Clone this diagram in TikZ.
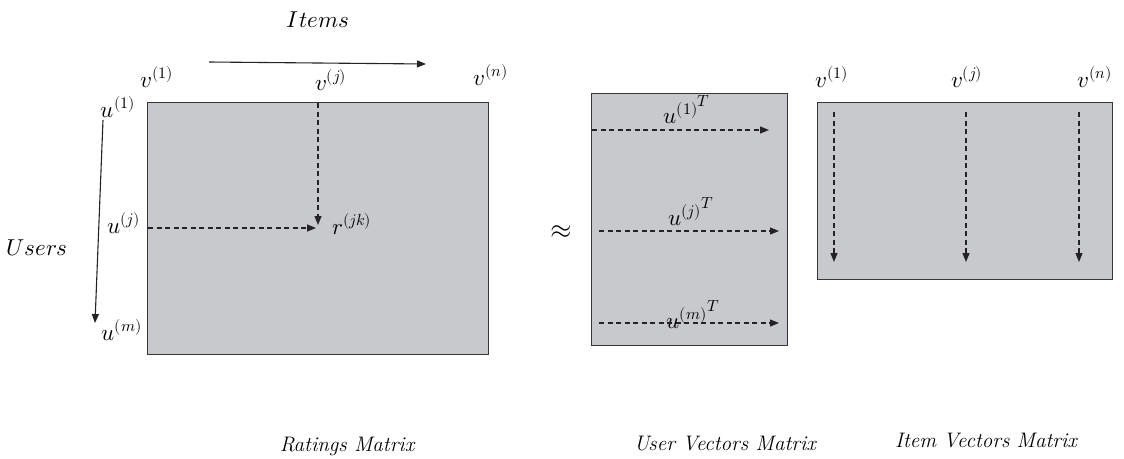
\documentclass[tikz,border=0pt]{standalone}
\usepackage{fontspec}
\usepackage{unicode-math}
\setmathfont{Latin Modern Math}
\usetikzlibrary{arrows.meta}
\definecolor{matfill}{RGB}{200,201,204}
\definecolor{linegray}{RGB}{55,55,55}
\definecolor{arrowgray}{RGB}{35,35,35}
\begin{document}
\begin{tikzpicture}[x=1pt,y=-1pt,
  matbox/.style={draw=linegray, fill=matfill, line width=1.4pt, inner sep=0pt, anchor=north west},
  lbl/.style={inner sep=0pt, anchor=base, font=\fontsize{23}{27}\selectfont},
  captext/.style={inner sep=0pt, anchor=base, font=\fontsize{21}{25}\selectfont\itshape},
  solidarrow/.style={draw=arrowgray, line width=1.1pt, -{Triangle[length=9pt,width=7pt]}},
  dasharrow/.style={draw=arrowgray, line width=1.1pt, dash pattern=on 5pt off 3.5pt, -{Triangle[length=9pt,width=7pt]}},
]
\useasboundingbox (0,0) rectangle (1124,458);

% matrices
\node[matbox, minimum width=341pt, minimum height=252pt] (R) at (147,102) {};
\node[matbox, minimum width=196pt, minimum height=252pt] (U) at (591,93) {};
\node[matbox, minimum width=295pt, minimum height=177pt] (V) at (817,102) {};

% ratings labels
\node[lbl] (items) at (318,27) {$Items$};
\node[lbl] (users) at (37,255) {$Users$};
\node[lbl] (v1) at (157,87) {$v^{(1)}$};
\node[lbl] (vj) at (331,90) {$v^{(j)}$};
\node[lbl] (vn) at (491,85) {$v^{(n)}$};
\node[lbl] (u1) at (118,117) {$u^{(1)}$};
\node[lbl] (uj) at (124,233) {$u^{(j)}$};
\node[lbl] (um) at (122,340) {$u^{(m)}$};
\node[lbl] (rjk) at (352,234) {$r^{(jk)}$};

% approx
\node[inner sep=0pt, font=\fontsize{28}{30}\selectfont] (approx) at (561,232) {$\approx$};

% item matrix labels
\node[lbl] (iv1) at (832,87) {$v^{(1)}$};
\node[lbl] (ivj) at (967,87) {$v^{(j)}$};
\node[lbl] (ivn) at (1095,87) {$v^{(n)}$};

% user matrix labels
\node[lbl] (uu1) at (687,123) {${u^{(1)}}^{T}$};
\node[lbl] (uuj) at (691,225) {${u^{(j)}}^{T}$};
\node[lbl] (uum) at (693,328) {${u^{(m)}}^{T}$};

% captions
\node[captext] (capR) at (347,451) {Ratings Matrix};
\node[captext] (capU) at (725,450) {User Vectors Matrix};
\node[captext] (capV) at (986,447) {Item Vectors Matrix};

% coordinates for arrows
\coordinate (ia1) at (209,62);  \coordinate (ia2) at (426,64);
\coordinate (ua1) at (103,120); \coordinate (ua2) at (95,323);
\coordinate (vd1) at (318,103); \coordinate (vd2) at (318,225);
\coordinate (hd1) at (148,228); \coordinate (hd2) at (316,228);
\coordinate (a11) at (592,130); \coordinate (a12) at (769,130);
\coordinate (aj1) at (599,231); \coordinate (aj2) at (779,231);
\coordinate (am1) at (599,323); \coordinate (am2) at (779,323);
\coordinate (b11) at (834,112); \coordinate (b12) at (834,262);
\coordinate (bj1) at (966,112); \coordinate (bj2) at (966,262);
\coordinate (bn1) at (1079,112); \coordinate (bn2) at (1079,262);

\draw[solidarrow] (ia1) -- (ia2);
\draw[solidarrow] (ua1) -- (ua2);
\draw[dasharrow] (vd1) -- (vd2);
\draw[dasharrow] (hd1) -- (hd2);
\draw[dasharrow] (a11) -- (a12);
\draw[dasharrow] (aj1) -- (aj2);
\draw[dasharrow] (am1) -- (am2);
\draw[dasharrow] (b11) -- (b12);
\draw[dasharrow] (bj1) -- (bj2);
\draw[dasharrow] (bn1) -- (bn2);
\end{tikzpicture}
\end{document}
